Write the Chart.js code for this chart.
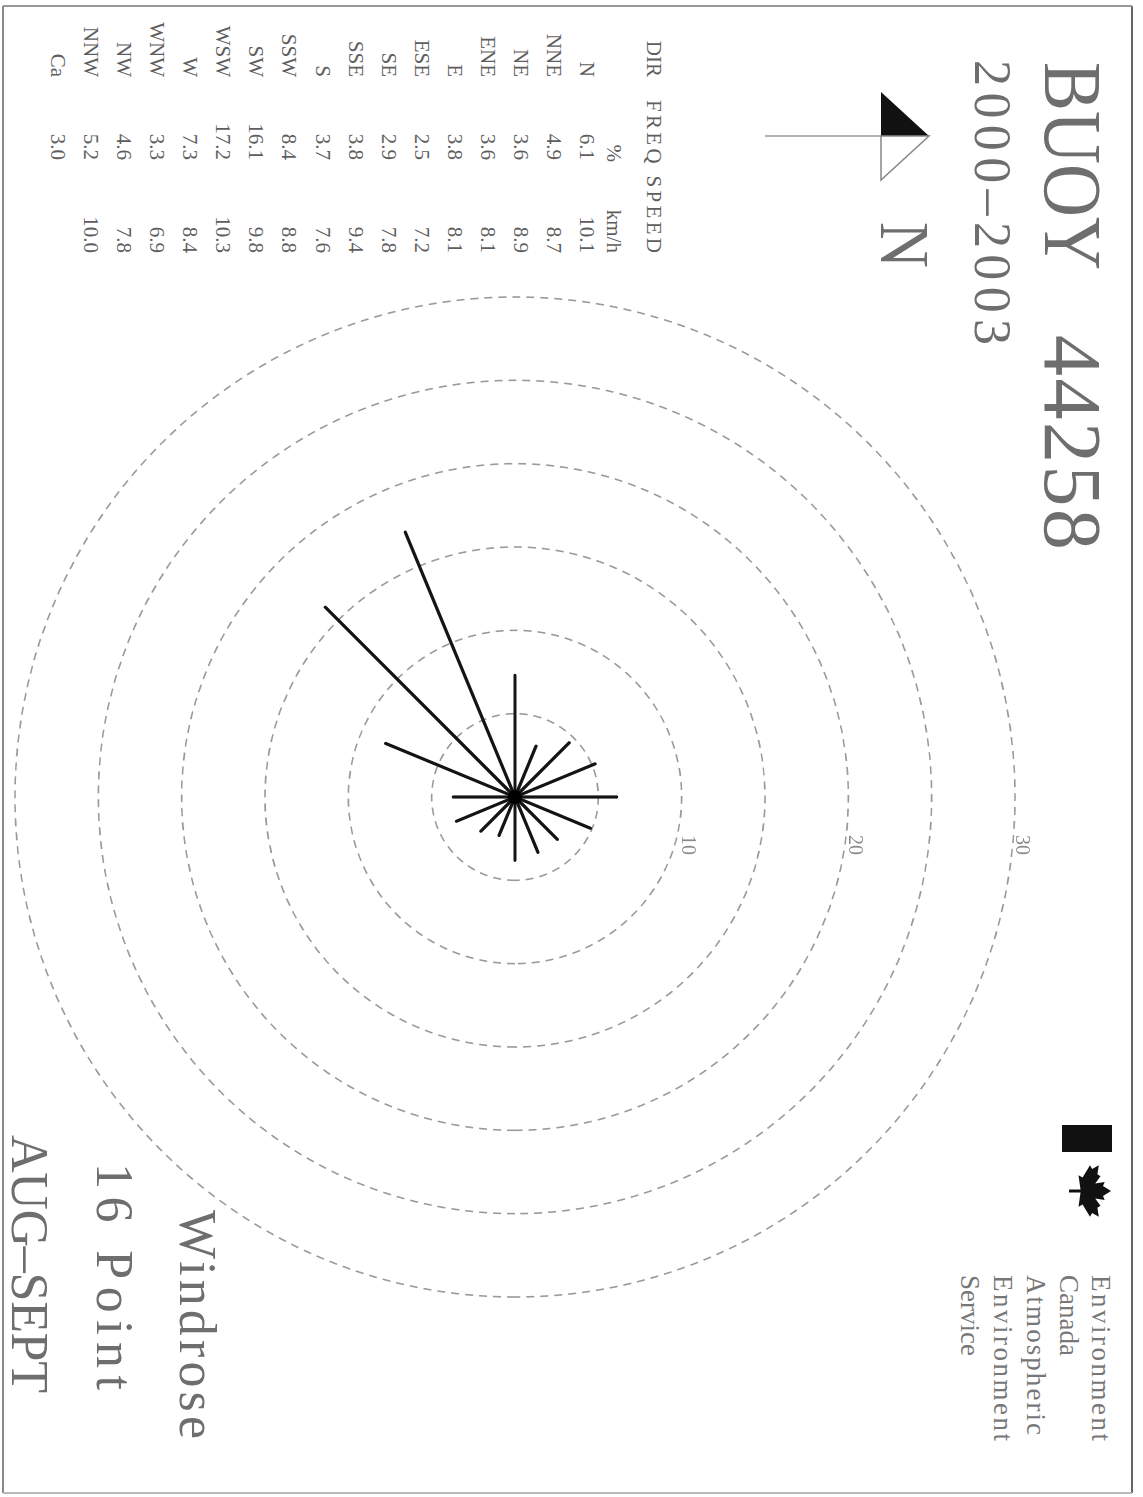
<!DOCTYPE html>
<html><head><meta charset="utf-8">
<script src="https://cdn.jsdelivr.net/npm/chart.js@4.4.1/dist/chart.umd.min.js"></script>
<style>
html,body{margin:0;padding:0;background:#fff;width:1143px;height:1497px;overflow:hidden;}
#page{position:absolute;left:1143px;top:0;width:1497px;height:1143px;transform-origin:0 0;transform:rotate(90deg);background:#fff;}
#overlay{position:absolute;left:0;top:0;}
#rose{position:absolute;left:277px;top:108px;}
</style></head><body>
<div id="page">
<svg id="overlay" width="1497" height="1143" xmlns="http://www.w3.org/2000/svg" font-family="'Liberation Serif','DejaVu Serif',serif">
  <line x1="6" y1="11" x2="1493" y2="11" stroke="#666" stroke-width="2"/>
  <line x1="6" y1="11" x2="6" y2="1140" stroke="#999" stroke-width="2"/>
  <line x1="6" y1="1140" x2="1493" y2="1140" stroke="#888" stroke-width="2"/>
  <line x1="1493" y1="11" x2="1493" y2="1140" stroke="#bbb" stroke-width="2"/>
  <text x="62" y="98" font-size="82" fill="#6e6e6e" textLength="208" lengthAdjust="spacingAndGlyphs">BUOY</text>
  <text x="335" y="98" font-size="82" fill="#6e6e6e" textLength="215" lengthAdjust="spacing">44258</text>
  <text x="60" y="168" font-size="52" fill="#6e6e6e" textLength="285" lengthAdjust="spacing">2000–2003</text>
  <line x1="136" y1="262" x2="136" y2="378" stroke="#999" stroke-width="1.5"/>
  <polygon points="92,262 136,262 136,214" fill="#111"/>
  <polygon points="136,262 180,262 136,214" fill="none" stroke="#888" stroke-width="1.5"/>
  <text x="222" y="262" font-size="70" fill="#6e6e6e" textLength="46" lengthAdjust="spacingAndGlyphs">N</text>
  <rect x="1125" y="31" width="27" height="50" fill="#111"/>
  <polygon id="leaf" fill="#111" points=""/>
  <g font-size="27" fill="#777">
    <text x="1275" y="51" textLength="166" lengthAdjust="spacing">Environment</text>
    <text x="1275" y="83">Canada</text>
    <text x="1275" y="116" textLength="160" lengthAdjust="spacing">Atmospheric</text>
    <text x="1275" y="149" textLength="166" lengthAdjust="spacing">Environment</text>
    <text x="1275" y="182">Service</text>
  </g>
  <g font-size="52" fill="#6e6e6e">
    <text x="1210" y="963" textLength="229" lengthAdjust="spacing">Windrose</text>
    <text x="1163" y="1046" textLength="227" lengthAdjust="spacing">16 Point</text>
    <text x="1135" y="1131" textLength="258" lengthAdjust="spacing">AUG–SEPT</text>
  </g>
  <g id="table" font-size="21" fill="#5e5e5e"></g>
</svg>
<canvas id="rose" width="1040" height="1040"></canvas>
</div>
<script>
// ---- data ----
const directions = ['N','NNE','NE','ENE','E','ESE','SE','SSE','S','SSW','SW','WSW','W','WNW','NW','NNW'];
const freqPct   = [6.1, 4.9, 3.6, 3.6, 3.8, 2.5, 2.9, 3.8, 3.7, 8.4, 16.1, 17.2, 7.3, 3.3, 4.6, 5.2];
const speedKmh  = [10.1, 8.7, 8.9, 8.1, 8.1, 7.2, 7.8, 9.4, 7.6, 8.8, 9.8, 10.3, 8.4, 6.9, 7.8, 10.0];
const calmLabel = 'Ca';
const calmFreq  = 3.0;
const ringTickLabels = [10, 20, 30];
const scaleMax = 30;
const ringStep = 5;

// ---- table ----
const NS = 'http://www.w3.org/2000/svg';
const tbl = document.getElementById('table');
function addText(txt, x, y, anchor, extra) {
  const t = document.createElementNS(NS, 'text');
  t.setAttribute('x', x); t.setAttribute('y', y);
  t.setAttribute('text-anchor', anchor);
  if (extra) for (const k in extra) t.setAttribute(k, extra[k]);
  t.textContent = txt;
  tbl.appendChild(t);
}
addText('DIR', 77, 496, 'end');
addText('FREQ SPEED', 100, 496, 'start', {textLength: 153, lengthAdjust: 'spacing'});
addText('%', 162, 536, 'end');
addText('km/h', 253, 536, 'end');
const rowLabels = directions.concat([calmLabel]);
const rowFreq = freqPct.concat([calmFreq]);
rowLabels.forEach((d, i) => {
  const y = 563 + 33.06 * i;
  addText(d, 77, y, 'end');
  addText(rowFreq[i].toFixed(1), 160, y, 'end');
  if (i < speedKmh.length) addText(speedKmh[i].toFixed(1), 253, y, 'end');
});

// ---- maple leaf (logo decoration) ----
(function(){
  const pts = [[0,-1],[0.18,-0.62],[0.33,-0.7],[0.28,-0.25],[0.55,-0.5],[0.62,-0.35],[0.95,-0.42],[0.82,-0.1],[0.95,0.0],[0.5,0.35],[0.58,0.55],[0.06,0.45],[0.06,1],[-0.06,1],[-0.06,0.45],[-0.58,0.55],[-0.5,0.35],[-0.95,0],[-0.82,-0.1],[-0.95,-0.42],[-0.62,-0.35],[-0.55,-0.5],[-0.28,-0.25],[-0.33,-0.7],[-0.18,-0.62]];
  document.getElementById('leaf').setAttribute('points', pts.map(p => (1191 + p[0]*27).toFixed(1) + ',' + (53 + p[1]*21).toFixed(1)).join(' '));
})();

// ---- chart ----
const spokes = {
  id: 'spokes',
  afterDatasetsDraw(chart) {
    const ctx = chart.ctx, r = chart.scales.r;
    const meta = chart.getDatasetMeta(0);
    ctx.save();
    ctx.strokeStyle = '#141414';
    ctx.lineWidth = 3.2;
    ctx.lineCap = 'round';
    meta.data.forEach(pt => {
      ctx.beginPath();
      ctx.moveTo(r.xCenter, r.yCenter);
      ctx.lineTo(pt.x, pt.y);
      ctx.stroke();
    });
    ctx.fillStyle = '#000';
    ctx.beginPath();
    ctx.arc(r.xCenter, r.yCenter, 7, 0, Math.PI * 2);
    ctx.fill();
    ctx.fillStyle = '#8a8a8a';
    ctx.font = '20px "Liberation Serif", serif';
    ctx.textAlign = 'center';
    ctx.textBaseline = 'middle';
    ringTickLabels.forEach(v => {
      const d = r.getDistanceFromCenterForValue(v);
      ctx.fillText(String(v), r.xCenter + 48, r.yCenter - d - 6);
    });
    ctx.restore();
  }
};

new Chart(document.getElementById('rose'), {
  type: 'radar',
  data: {
    labels: directions,
    datasets: [{
      data: freqPct,
      showLine: false,
      borderWidth: 0,
      pointRadius: 0,
      pointHoverRadius: 0,
      fill: false
    }]
  },
  options: {
    responsive: false,
    animation: false,
    devicePixelRatio: 1,
    layout: { padding: 20 },
    plugins: { legend: { display: false }, tooltip: { enabled: false } },
    events: [],
    scales: {
      r: {
        min: 0,
        max: scaleMax,
        startAngle: 0,
        ticks: { display: false, stepSize: ringStep },
        grid: { circular: true, color: '#9a9a9a', lineWidth: 1.6 },
        border: { dash: [8, 6] },
        angleLines: { display: false },
        pointLabels: { display: false }
      }
    }
  },
  plugins: [spokes]
});
</script>
</body></html>
